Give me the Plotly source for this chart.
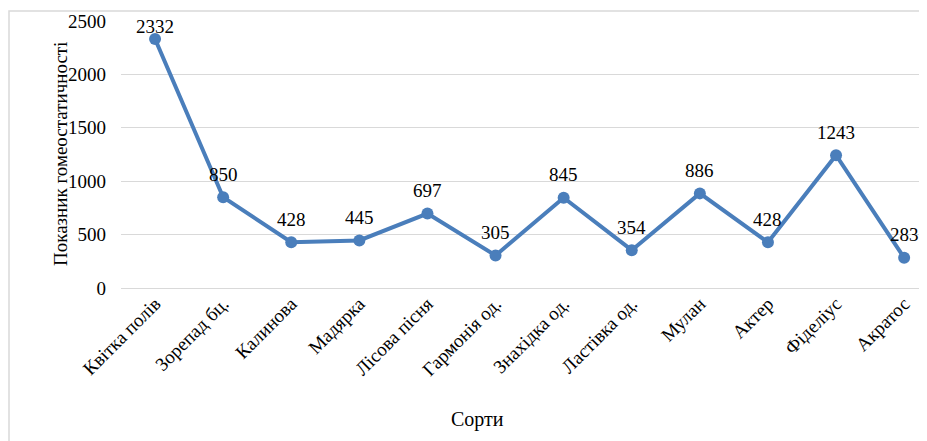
import plotly.graph_objects as go

categories = ["Квітка полів", "Зорепад бц.", "Калинова", "Мадярка", "Лісова пісня",
              "Гармонія од.", "Знахідка од.", "Ластівка од.", "Мулан", "Актер",
              "Фіделіус", "Акратос"]
values = [2332, 850, 428, 445, 697, 305, 845, 354, 886, 428, 1243, 283]
y_ticks = [0, 500, 1000, 1500, 2000, 2500]

OFF = 8  # page body margin
W, H = 927, 441
L, R, T, B = 121 - OFF, 0, 21 - OFF, 441 - 288 + OFF
FONT = "Liberation Serif, serif"
YMAX = 2500

fig = go.Figure(go.Scatter(
    x=categories, y=values, mode="lines+markers",
    line=dict(color="#4a7ebb", width=4),
    marker=dict(color="#4a7ebb", size=12),
    cliponaxis=False, showlegend=False,
))

pw = W - L - R
ph = H - T - B
span = pw / 68.1

# data labels (placed above points, kept inside the chart area like Excel does)
anns = []
LABEL_GAP = 23
MIN_CENTER = 27 - OFF
for c, v in zip(categories, values):
    py = T + ph * (1 - v / YMAX)
    shift = min(LABEL_GAP, py - MIN_CENTER)
    anns.append(dict(x=c, y=v, xref="x", yref="y", text=str(v), showarrow=False,
                     yshift=shift, xanchor="center", yanchor="middle",
                     font=dict(size=19, family=FONT, color="#000000")))

anns += [
    dict(text="Показник гомеостатичності", x=(60 - OFF - L) / pw, y=1 - (154 - OFF - T) / ph,
         xref="paper", yref="paper", showarrow=False, textangle=-90,
         font=dict(size=19, family=FONT, color="#000000"),
         xanchor="center", yanchor="middle"),
    dict(text="Сорти", x=(477 - OFF - L) / pw, y=1 - (419 - OFF - T) / ph,
         xref="paper", yref="paper", showarrow=False,
         font=dict(size=20, family=FONT, color="#000000"),
         xanchor="center", yanchor="middle"),
]

fig.update_layout(
    width=W, height=H,
    margin=dict(l=L, r=R, t=T, b=B),
    paper_bgcolor="white", plot_bgcolor="white",
    font=dict(family=FONT, color="#000000"),
    xaxis=dict(range=[-0.5, -0.5 + span], tickangle=-45, showgrid=False,
               tickfont=dict(size=19, family=FONT), showline=False, ticks=""),
    yaxis=dict(range=[0, YMAX], tickvals=y_ticks, showgrid=True, gridcolor="#d9d9d9",
               gridwidth=1, zeroline=True, zerolinecolor="#d9d9d9", zerolinewidth=1,
               tickfont=dict(size=19, family=FONT), ticklabelstandoff=14,
               showline=False, ticks=""),
    annotations=anns,
    shapes=[dict(type="rect", xref="paper", yref="paper",
                 x0=(9 - OFF - L) / pw, x1=1.2, y0=-1, y1=1 + (T - (11 - OFF)) / ph,
                 line=dict(color="#d9d9d9", width=1.5), fillcolor="rgba(0,0,0,0)",
                 layer="below")],
)

fig.write_html("out.html")
